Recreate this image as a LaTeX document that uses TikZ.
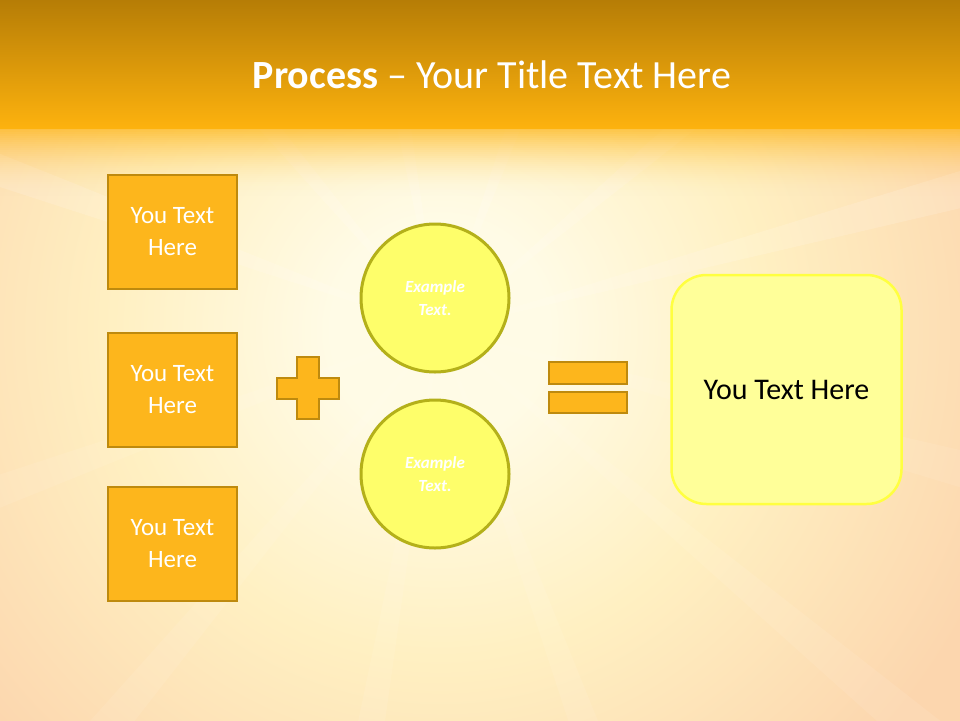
\documentclass[tikz,border=0pt]{standalone}
\usepackage{fontspec}
\setmainfont{Carlito}
\definecolor{headtop}{RGB}{182,125,6}
\definecolor{headbot}{RGB}{253,178,14}
\definecolor{glowin}{RGB}{255,251,230}
\definecolor{glowmid}{RGB}{255,240,194}
\definecolor{glowout}{RGB}{252,214,174}
\definecolor{boxfill}{RGB}{253,182,28}
\definecolor{boxline}{RGB}{190,138,14}
\definecolor{circfill}{RGB}{254,254,106}
\definecolor{circline}{RGB}{180,176,26}
\definecolor{resfill}{RGB}{255,255,153}
\definecolor{resline}{RGB}{255,255,64}
\pgfdeclareradialshading{glow}{\pgfpoint{0bp}{0bp}}{color(0bp)=(glowin); color(4bp)=(glowin);
  color(12bp)=(glowmid); color(22bp)=(glowout); color(50bp)=(glowout)}
\tikzset{
  textbox/.style={draw=boxline,fill=boxfill,line width=2pt,minimum width=129pt,minimum height=114pt,
    text=white,align=center,font=\fontsize{25}{32}\selectfont},
  bubble/.style={circle,draw=circline,fill=circfill,line width=3pt,minimum size=148pt,
    text=white,align=center,font=\fontsize{17}{23}\selectfont\bfseries\itshape},
  resultbox/.style={draw=resline,fill=resfill,line width=2.5pt,rounded corners=35pt,
    minimum width=230pt,minimum height=229pt,font=\fontsize{30}{36}\selectfont},
  sign/.style={draw=boxline,fill=boxfill,line width=2pt}
}
\begin{document}
\begin{tikzpicture}[x=1pt,y=-1pt]
\useasboundingbox (0,0) rectangle (960,720);
%Background
\begin{scope}
\clip (0,128) rectangle (960,720);
\fill[glowout] (0,128) rectangle (960,720);
\shade[shading=glow] (440,330) circle (680);
\foreach \a in {-160,-130,-100,-70,-40,-15,15,40,70,100,130,160,200,230,260,290,320,345}
  \fill[white,opacity=0.08] (440,330) -- ++(\a-2:900) -- ++(\a+92:60) -- cycle;
\foreach \i in {0,...,34}
  \fill[headbot,opacity={0.7*(1-\i/35)^2}] (0,128+2*\i) rectangle (960,130+2*\i);
\end{scope}
%Header
\shade[top color=headtop,bottom color=headbot] (0,0) rectangle (960,128);
% Text Node
\node[text=white,font=\fontsize{40}{46}\selectfont] (title) at (492,75) {\textbf{Process} -- Your Title Text Here};
%Left boxes
\node[textbox] (box1) at (172.5,232) {You Text\\Here};
\node[textbox] (box2) at (172.5,390) {You Text\\Here};
\node[textbox] (box3) at (172.5,544) {You Text\\Here};
%Shape: Plus
\draw[sign] (297,357) -- (319,357) -- (319,378) -- (339,378) -- (339,399) -- (319,399) -- (319,419)
  -- (297,419) -- (297,399) -- (277,399) -- (277,378) -- (297,378) -- cycle;
%Circles
\node[bubble] (top) at (435,298) {Example\\Text.};
\node[bubble] (bottom) at (435,474) {Example\\Text.};
%Shape: Equals
\draw[sign] (549,362) rectangle (627,384);
\draw[sign] (549,392) rectangle (627,413);
%Result
\node[resultbox] (result) at (786.5,389.5) {You Text Here};
\end{tikzpicture}
\end{document}
